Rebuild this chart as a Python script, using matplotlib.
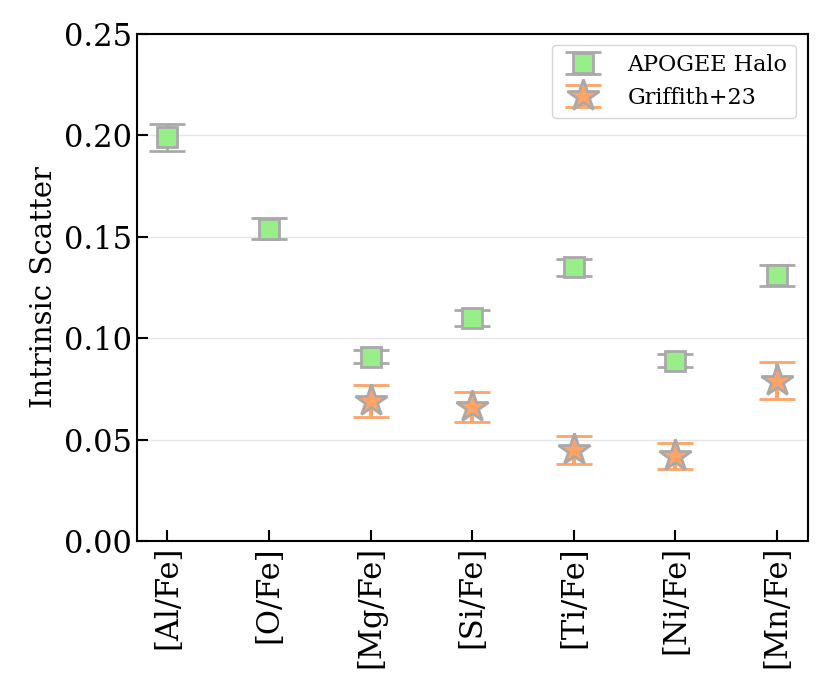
import numpy as np
import matplotlib
matplotlib.use('Agg')
import matplotlib.pyplot as plt

# abundance ratios
elements = ['[Al/Fe]', '[O/Fe]', '[Mg/Fe]', '[Si/Fe]', '[Ti/Fe]', '[Ni/Fe]', '[Mn/Fe]']

# APOGEE halo intrinsic scatter and uncertainty
apogee_scatter = [0.199, 0.154, 0.091, 0.110, 0.135, 0.089, 0.131]
apogee_err = [0.0065, 0.0052, 0.0033, 0.0040, 0.0042, 0.0031, 0.0052]

# Griffith+23 (no Al, O)
griffith_idx = [2, 3, 4, 5, 6]
griffith_scatter = [0.069, 0.066, 0.045, 0.042, 0.079]
griffith_err = [0.0080, 0.0073, 0.0070, 0.0062, 0.0091]

plt.rcParams['font.family'] = 'DejaVu Serif'
plt.rcParams['mathtext.fontset'] = 'dejavuserif'

fig = plt.figure(figsize=(8.3, 6.92), dpi=100)
ax = fig.add_axes([0.165, 0.218, 0.808, 0.733])

x = np.arange(len(elements))
ax.errorbar(x, apogee_scatter, yerr=apogee_err, fmt='s', ms=14,
            mfc='#98ee88', mec='darkgray', mew=2, ecolor='darkgray',
            elinewidth=2, capsize=13, capthick=2, label='APOGEE Halo', zorder=3)
ax.errorbar(griffith_idx, griffith_scatter, yerr=griffith_err, fmt='*', ms=24,
            mfc='#ffa366', mec='darkgray', mew=2, ecolor='#ffa366',
            elinewidth=3, capsize=13, capthick=1.5, label='Griffith+23', zorder=3)

ax.set_xlim(-0.3, 6.3)
ax.set_ylim(0, 0.25)
ax.set_yticks([0.0, 0.05, 0.10, 0.15, 0.20, 0.25])
ax.set_xticks(x)
ax.set_xticklabels(elements, rotation=90)
ax.tick_params(direction='in', length=8, width=1.5, labelsize=22)
ax.yaxis.grid(True, color='#e6e6e6', lw=1)
ax.set_axisbelow(True)
for s in ax.spines.values():
    s.set_linewidth(1.5)
ax.set_ylabel('Intrinsic Scatter', fontsize=21)
ax.legend(loc='upper right', fontsize=16, handletextpad=1.0)

fig.savefig('out.png', dpi=100)
